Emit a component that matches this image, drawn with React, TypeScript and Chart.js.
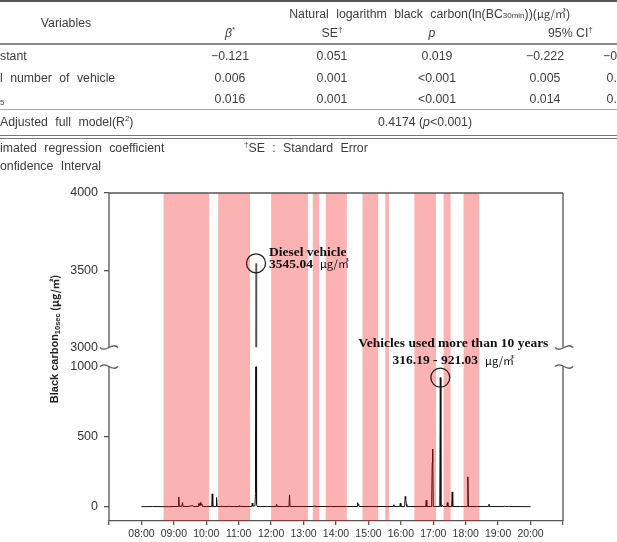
import React, { useEffect, useRef } from "react";
import { Chart, registerables } from "chart.js";

Chart.register(...registerables);

// ---------------- data ----------------
const hourTicks = [420, 480, 540, 600, 660, 720, 780, 840, 900, 960, 1020, 1080, 1140, 1200, 1260];
const hourLabels = ["", "08:00", "09:00", "10:00", "11:00", "12:00", "13:00", "14:00", "15:00", "16:00", "17:00", "18:00", "19:00", "20:00", ""];
const lowerTicks = [0, 500, 1000];
const upperTicks = [3000, 3500, 4000];

// shaded periods (minutes after midnight)
const bandStart = [521, 622, 720, 797, 821, 889, 931, 985, 1039, 1076];
const bandEnd = [605, 681, 788, 809, 860, 918, 938, 1025, 1052, 1105];

// black carbon (minutes after midnight, µg/m³)
const bcTimes = [
  480, 500, 530, 548, 549, 550, 551, 555, 556, 557, 566, 575, 576, 585, 586, 587, 589, 590, 592, 593,
  600, 610, 611, 612, 618, 619, 620, 628, 629, 630, 641, 642, 643, 661, 662, 663, 675, 684, 685, 686,
  690, 691, 692, 693, 694, 700, 711, 712, 713, 729, 730, 731, 745, 753, 754, 755, 770, 799, 800, 801,
  829, 830, 831, 860, 879, 880, 881, 882, 883, 910, 946, 947, 948, 958, 959, 960, 967, 968, 969, 970,
  971, 990, 1006, 1007, 1008, 1017, 1018, 1019, 1020, 1032, 1033, 1034, 1036, 1037, 1038, 1045, 1046, 1047, 1054, 1055,
  1056, 1070, 1083, 1084, 1085, 1100, 1122, 1123, 1124, 1151, 1152, 1153, 1159, 1160, 1161, 1200,
];
const bcValues = [
  2, 3, 2, 4, 71, 8, 4, 5, 31, 4, 3, 10, 3, 4, 25, 8, 31, 12, 20, 4,
  3, 3, 93, 3, 3, 67, 3, 3, 8, 3, 3, 8, 3, 3, 10, 3, 3, 4, 28, 6,
  8, 95, 3545.04, 20, 4, 3, 3, 6, 3, 3, 20, 3, 3, 3, 86, 3, 3, 3, 8, 3,
  3, 6, 3, 3, 3, 31, 18, 12, 3, 3, 3, 16, 3, 3, 27, 3, 3, 74, 60, 20,
  3, 3, 3, 48, 3, 3, 316.19, 412, 3, 3, 921.03, 4, 3, 10, 3, 3, 31, 3, 3, 107,
  3, 3, 3, 214, 3, 3, 3, 20, 3, 3, 6, 3, 3, 6, 3, 2,
];

const dieselPeak = { t: 692, v: 3545.04 };
const oldPeak = { t: 1033, v: 921.03 };

// table
const betaVals = ["\u22120.121", "0.006", "0.016"];
const seVals = ["0.051", "0.001", "0.001"];
const pVals = ["0.019", "<0.001", "<0.001"];
const ciLowVals = ["\u22120.222", "0.005", "0.014"];
const ciHighVals = ["\u22120.020", "0.008", "0.018"];

// ---------------- layout constants ----------------
const SANS = "'Liberation Sans', Arial, sans-serif";
const SERIF = "'Liberation Serif', 'Times New Roman', serif";
const CJK = "'Noto Sans CJK KR', 'Noto Sans', sans-serif";
const rowY = [56, 78, 99];
const colX = [230, 332, 437, 545, 622];

const clipPlugin = {
  id: "clipToScale",
  beforeDatasetDraw(chart: any, args: any) {
    const ys = args.meta.yScale;
    const ca = chart.chartArea;
    const ctx = chart.ctx;
    ctx.save();
    ctx.beginPath();
    ctx.rect(ca.left, ys.top, ca.right - ca.left, ys.bottom - ys.top);
    ctx.clip();
  },
  afterDatasetDraw(chart: any) {
    chart.ctx.restore();
  },
};

function tilde(ctx: CanvasRenderingContext2D, x: number, y: number, s: number) {
  ctx.beginPath();
  ctx.moveTo(x - 9, y);
  ctx.bezierCurveTo(x - 3, y + 6 * s, x + 3, y - 6 * s, x + 9, y);
  ctx.stroke();
}

const decorPlugin = {
  id: "decor",
  afterDatasetsDraw(chart: any) {
    const { ctx, chartArea: ca } = chart;
    const xs = chart.scales.x;
    ctx.save();
    ctx.fillStyle = "rgba(240,0,0,0.3)";
    bandStart.forEach((s, i) => {
      const x0 = xs.getPixelForValue(s);
      const x1 = xs.getPixelForValue(bandEnd[i]);
      ctx.fillRect(x0, ca.top, x1 - x0, ca.bottom - ca.top);
    });
    ctx.restore();
  },
  afterDraw(chart: any) {
    const { ctx, chartArea: ca } = chart;
    const xs = chart.scales.x;
    const yT = chart.scales.yTop;
    const yL = chart.scales.yLow;
    const L = ca.left, R = ca.right, T = ca.top, B = ca.bottom;
    const b1 = yT.getPixelForValue(3000);
    const b2 = yL.getPixelForValue(1000);
    ctx.save();
    if ("wordSpacing" in ctx) (ctx as any).wordSpacing = "0px";
    ctx.strokeStyle = "#555";
    ctx.lineWidth = 1.3;
    ctx.beginPath();
    ctx.moveTo(L, T); ctx.lineTo(R, T);
    ctx.moveTo(L, T); ctx.lineTo(L, b1);
    ctx.moveTo(L, b2); ctx.lineTo(L, B);
    ctx.moveTo(R, T); ctx.lineTo(R, b1);
    ctx.moveTo(R, b2); ctx.lineTo(R, B);
    ctx.stroke();
    tilde(ctx, L, b1, 1);
    tilde(ctx, L, b2, -1);
    tilde(ctx, R + 1, b1, 1);
    tilde(ctx, R + 1, b2, -1);

    // y axis title
    ctx.save();
    ctx.translate(L - 54, T + 146);
    ctx.rotate(-Math.PI / 2);
    ctx.fillStyle = "#222";
    ctx.textBaseline = "middle";
    const parts = [
      { t: "Black carbon", f: `bold 11px ${SANS}`, dy: 0 },
      { t: "10sec", f: `bold 7.5px ${SANS}`, dy: 3 },
      { t: " (\u03bcg/\u33a5)", f: `bold 10.5px ${CJK}`, dy: 0 },
    ];
    let tw = 0;
    parts.forEach((p) => { ctx.font = p.f; tw += ctx.measureText(p.t).width; });
    let cx = -tw / 2;
    parts.forEach((p) => {
      ctx.font = p.f;
      ctx.fillText(p.t, cx, p.dy);
      cx += ctx.measureText(p.t).width;
    });
    ctx.restore();

    // annotations
    ctx.strokeStyle = "#222";
    ctx.lineWidth = 1.3;
    const dx = xs.getPixelForValue(dieselPeak.t);
    const dy = yT.getPixelForValue(dieselPeak.v);
    ctx.beginPath();
    ctx.arc(dx, dy, 9.5, 0, Math.PI * 2);
    ctx.stroke();
    const ox = xs.getPixelForValue(oldPeak.t);
    const oy = yL.getPixelForValue(oldPeak.v);
    ctx.beginPath();
    ctx.arc(ox, oy, 9.5, 0, Math.PI * 2);
    ctx.stroke();

    ctx.fillStyle = "#111";
    ctx.textBaseline = "middle";
    ctx.textAlign = "left";
    const serifB = `bold 13.5px ${SERIF}`;
    const unitF = `11px ${CJK}`;
    const unit = "\u03bcg/\u33a5";
    ctx.font = serifB;
    ctx.fillText("Diesel vehicle", dx + 13, dy - 11);
    const v1 = dieselPeak.v.toFixed(2);
    ctx.fillText(v1, dx + 13, dy + 1);
    const w1 = ctx.measureText(v1).width;
    ctx.font = unitF;
    ctx.fillText(unit, dx + 13 + w1 + 7, dy + 1);

    ctx.font = serifB;
    ctx.textAlign = "center";
    ctx.fillText("Vehicles used more than 10 years", ox + 13, oy - 34);
    ctx.textAlign = "left";
    const v2 = "316.19 - " + oldPeak.v.toFixed(2);
    const w2 = ctx.measureText(v2).width;
    ctx.font = unitF;
    const wu = ctx.measureText(unit).width;
    const total = w2 + 7 + wu;
    const sx = ox + 13 - total / 2;
    ctx.font = serifB;
    ctx.fillText(v2, sx, oy - 17);
    ctx.font = unitF;
    ctx.fillText(unit, sx + w2 + 7, oy - 17);
    ctx.restore();
  },
};

const hideBreakTick = (c: any) =>
  c.tick && (c.tick.value === 1000 || c.tick.value === 3000) ? "rgba(0,0,0,0)" : "#555";

function yScale(min: number, max: number, ticks: number[], weight: number) {
  return {
    type: "linear",
    position: "left",
    stack: "ys",
    stackWeight: weight,
    min,
    max,
    afterFit: (s: any) => { s.width = 109; },
    afterBuildTicks: (s: any) => { s.ticks = ticks.map((v) => ({ value: v })); },
    border: { display: false },
    grid: { drawOnChartArea: false, drawTicks: true, tickLength: 5, color: hideBreakTick, lineWidth: 1.3 },
    ticks: {
      color: "#333",
      padding: 6,
      font: { family: SANS, size: 12.5 },
      callback: (v: any) => String(v),
    },
  };
}

const Txt = ({ x, y, a = "l", children, s }: any) => (
  <div
    style={{
      position: "absolute",
      left: x,
      top: y - 8,
      height: 16,
      lineHeight: "16px",
      whiteSpace: "nowrap",
      wordSpacing: 4,
      transform: a === "c" ? "translateX(-50%)" : a === "r" ? "translateX(-100%)" : undefined,
      ...s,
    }}
  >
    {children}
  </div>
);

const HLine = ({ y, h, c }: any) => (
  <div style={{ position: "absolute", left: 0, width: 617, top: y, height: h, background: c }} />
);

export default function App() {
  const ref = useRef<HTMLCanvasElement>(null);
  useEffect(() => {
    const canvas = ref.current!;
    const mk = () => bcTimes.map((t, i) => ({ x: t, y: bcValues[i] }));
    const chart = new Chart(canvas, {
      type: "line",
      data: {
        datasets: [
          { data: mk(), yAxisID: "yLow", borderColor: "#111", borderWidth: 1, pointRadius: 0, tension: 0 },
          { data: mk(), yAxisID: "yTop", borderColor: "#555", borderWidth: 1.4, pointRadius: 0, tension: 0 },
        ],
      } as any,
      options: {
        animation: false,
        responsive: false,
        maintainAspectRatio: false,
        events: [],
        layout: { padding: { top: 193, right: 54, left: 0, bottom: 0 } },
        plugins: { legend: { display: false }, tooltip: { enabled: false } },
        scales: {
          x: {
            type: "linear",
            min: 420,
            max: 1260,
            afterFit: (s: any) => { s.height = 21; },
            afterBuildTicks: (s: any) => { s.ticks = hourTicks.map((v) => ({ value: v })); },
            border: { display: true, color: "#555", width: 1.3 },
            grid: { drawOnChartArea: false, drawTicks: true, tickLength: 4, color: "#555", lineWidth: 1.3 },
            ticks: {
              color: "#333",
              padding: 3,
              maxRotation: 0,
              autoSkip: false,
              font: { family: SANS, size: 10.5 },
              callback: (v: any) => hourLabels[hourTicks.indexOf(v)] ?? "",
            },
          },
          yLow: yScale(-100, 1000, lowerTicks, 154),
          yGap: { type: "linear", display: false, stack: "ys", stackWeight: 19, position: "left", min: 0, max: 1 },
          yTop: yScale(3000, 4000, upperTicks, 154),
        } as any,
      },
      plugins: [clipPlugin, decorPlugin],
    });
    return () => chart.destroy();
  }, []);

  const base: any = { fontFamily: SANS, fontSize: 12.3, color: "#3d3d3d" };
  const sup = { fontSize: 8, verticalAlign: "super", lineHeight: 0 } as any;
  return (
    <div style={{ position: "absolute", left: 0, top: 0, width: 617, height: 542, overflow: "hidden", background: "#fff", ...base }}>
      <canvas ref={ref} width={617} height={542} style={{ position: "absolute", left: 0, top: 0, width: 617, height: 542, wordSpacing: "normal", letterSpacing: "normal" }} />
      <HLine y={0} h={2} c="#555" />
      <Txt x={66} y={23} a="c">Variables</Txt>
      <Txt x={570} y={13} a="r">
        Natural logarithm black carbon(ln(BC<span style={{ fontSize: 8 }}>30min</span>))(
        <span style={{ fontFamily: CJK, fontSize: 11 }}>μg/㎥</span>)
      </Txt>
      <Txt x={230} y={33} a="c"><i>β</i><span style={sup}>*</span></Txt>
      <Txt x={332} y={33} a="c">SE<span style={sup}>†</span></Txt>
      <Txt x={432} y={33} a="c"><i>p</i></Txt>
      <Txt x={548} y={33} s={{ wordSpacing: 0 }}>95% CI<span style={sup}>†</span></Txt>
      <HLine y={42.5} h={2} c="#888" />
      <Txt x={0} y={rowY[0]}>stant</Txt>
      <Txt x={0} y={rowY[1]}>l number of vehicle</Txt>
      <Txt x={0} y={rowY[2] + 4} s={{ fontSize: 8 }}>5</Txt>
      {rowY.map((y, i) => (
        <React.Fragment key={i}>
          <Txt x={colX[0]} y={y} a="c">{betaVals[i]}</Txt>
          <Txt x={colX[1]} y={y} a="c">{seVals[i]}</Txt>
          <Txt x={colX[2]} y={y} a="c">{pVals[i]}</Txt>
          <Txt x={colX[3]} y={y} a="c">{ciLowVals[i]}</Txt>
          <Txt x={colX[4]} y={y} a="c">{ciHighVals[i]}</Txt>
        </React.Fragment>
      ))}
      <HLine y={109} h={1} c="#aaa" />
      <Txt x={0} y={122}>Adjusted full model(R<span style={sup}>2</span>)</Txt>
      <Txt x={425} y={122} a="c" s={{ wordSpacing: 0 }}>0.4174 (<i>p</i>&lt;0.001)</Txt>
      <HLine y={134.5} h={1.3} c="#777" />
      <HLine y={137.5} h={1.3} c="#777" />
      <Txt x={0} y={148}>imated regression coefficient</Txt>
      <Txt x={244} y={148}><span style={sup}>†</span>SE : Standard Error</Txt>
      <Txt x={0} y={166}>onfidence Interval</Txt>
    </div>
  );
}
